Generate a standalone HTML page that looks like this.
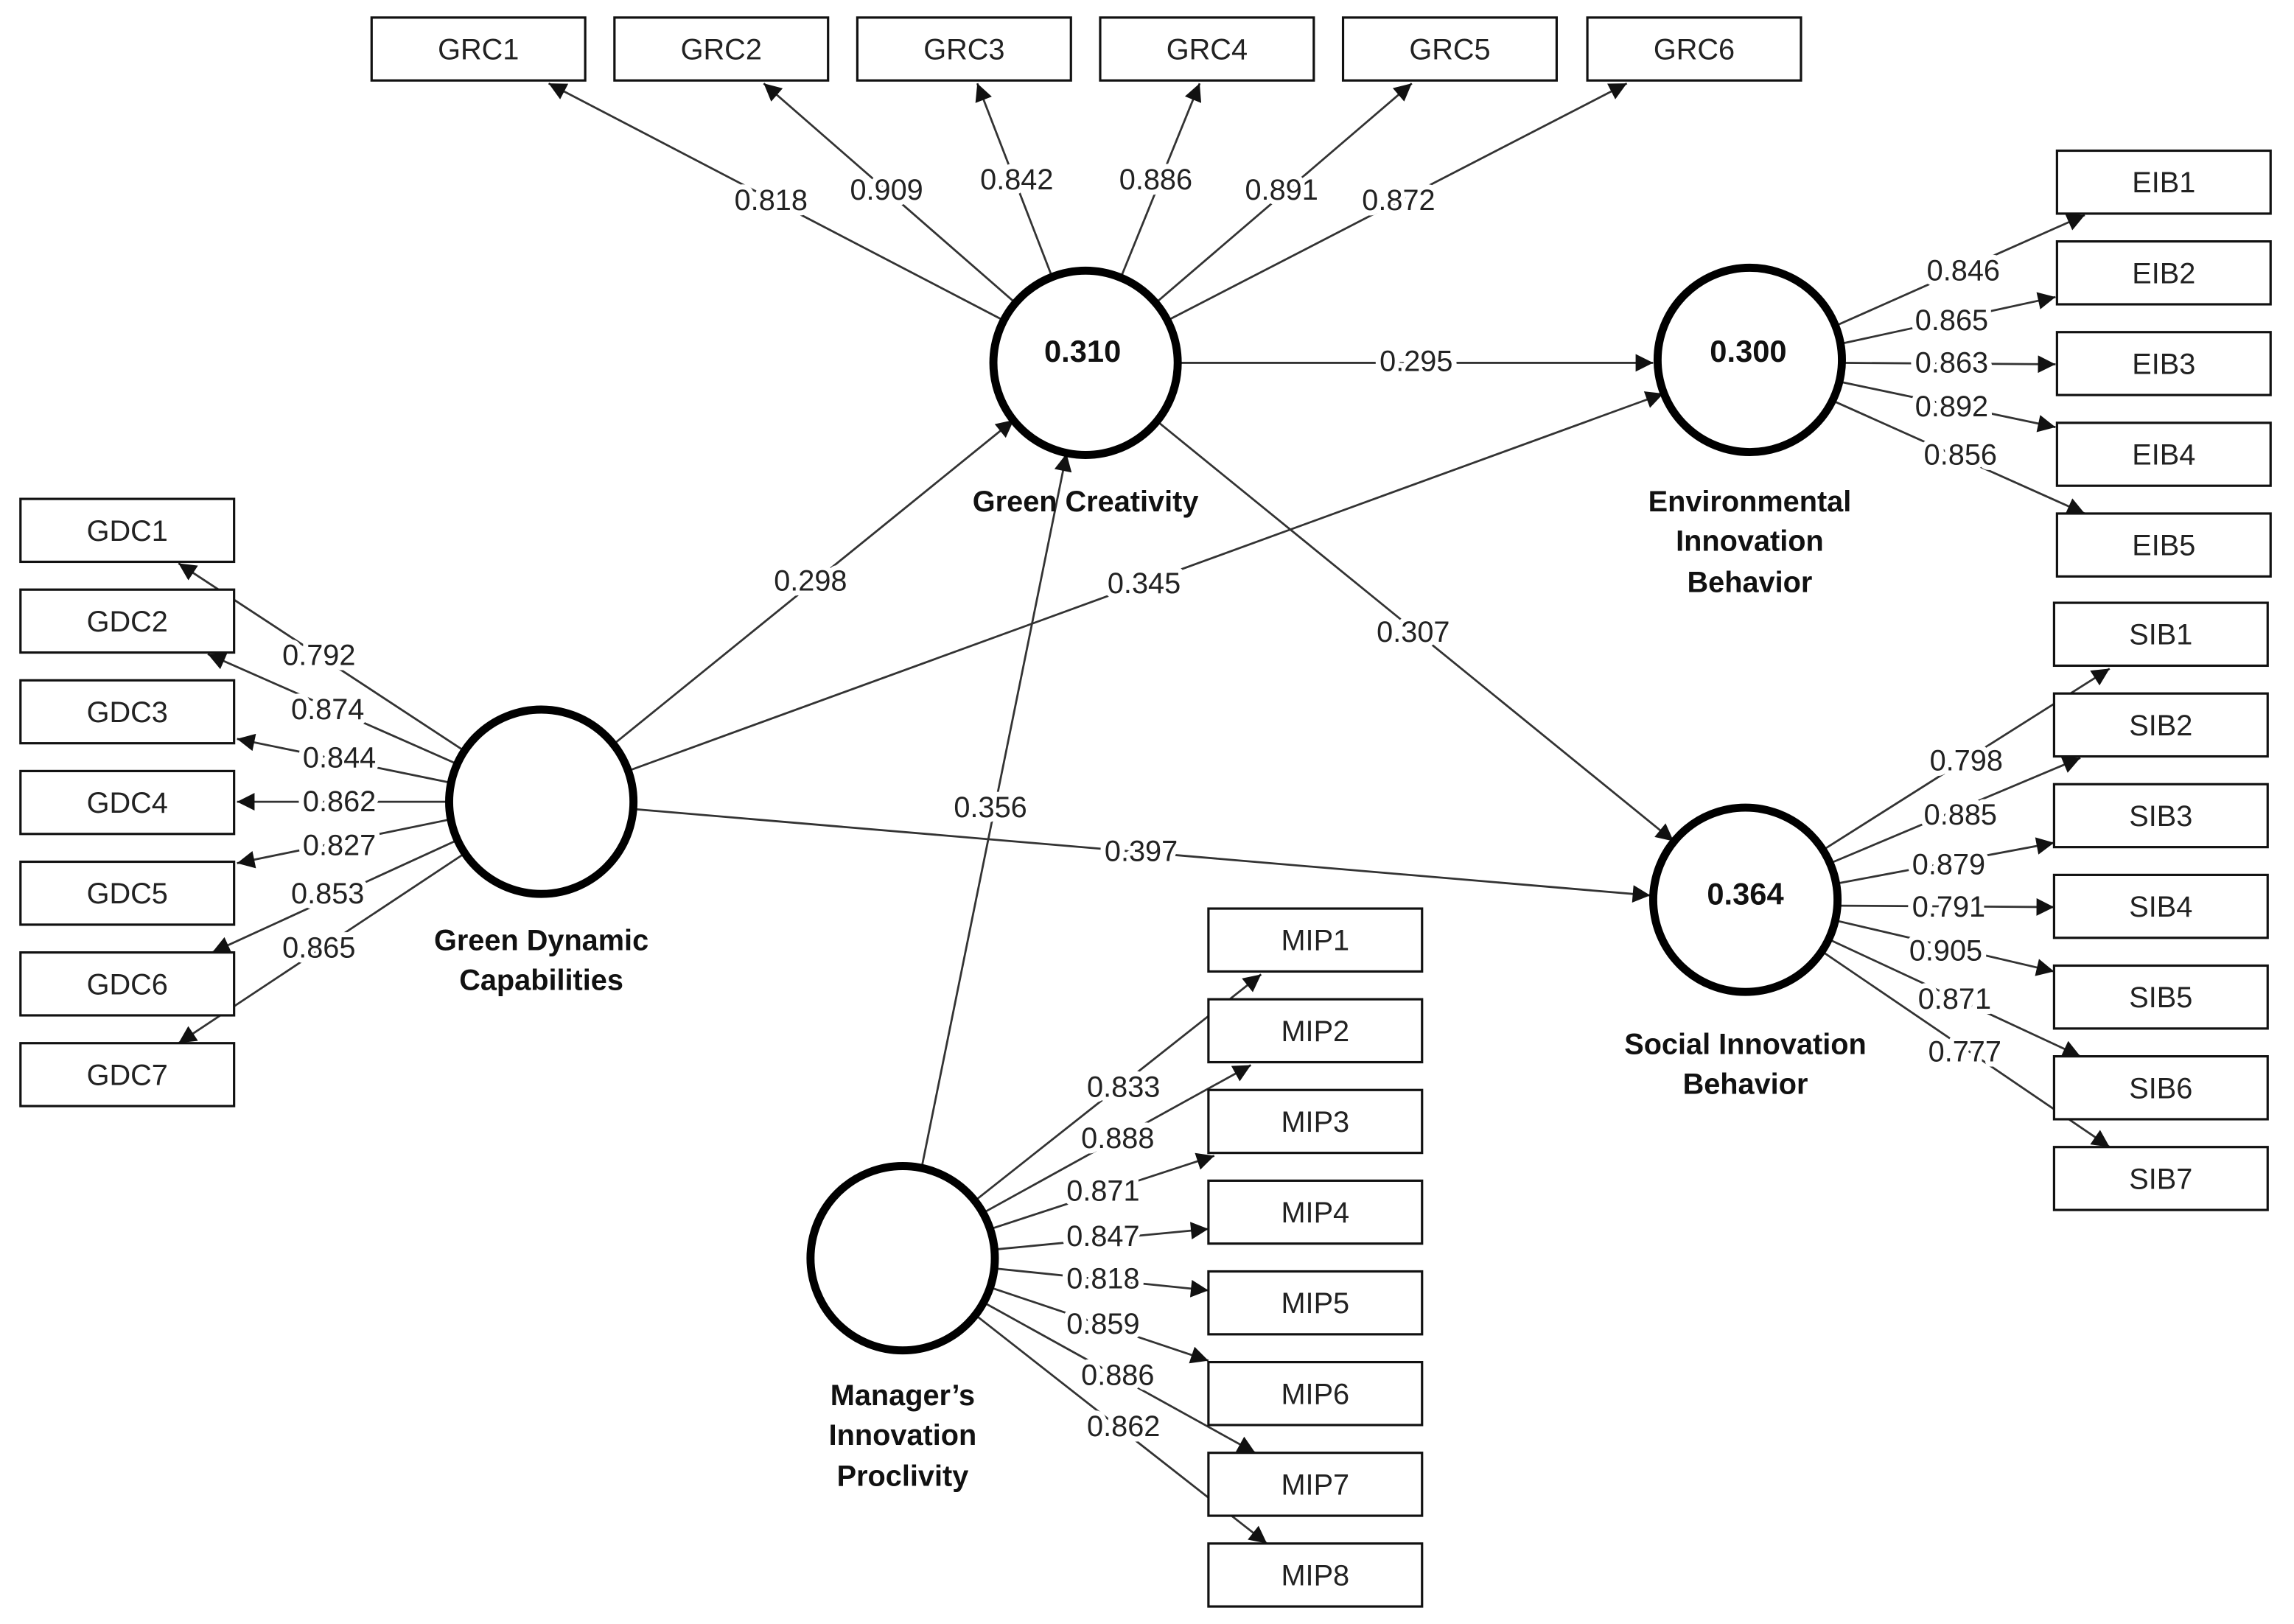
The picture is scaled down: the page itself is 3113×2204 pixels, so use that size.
<!DOCTYPE html>
<html><head><meta charset="utf-8"><style>
html,body{margin:0;padding:0;background:#fff;}
svg{display:block;}
text{font-family:"Liberation Sans",sans-serif;}
.n{font-size:20px;fill:#222;text-anchor:middle;dominant-baseline:central;stroke:#fff;stroke-width:7px;paint-order:stroke;stroke-linejoin:round;}
.b{font-size:20px;fill:#222;text-anchor:middle;dominant-baseline:central;}
.t{font-size:20px;font-weight:bold;fill:#111;text-anchor:middle;dominant-baseline:central;}
.r{font-size:21px;font-weight:bold;fill:#111;text-anchor:middle;dominant-baseline:central;}
rect{fill:#fff;stroke:#111;stroke-width:1.6;}
line{stroke:#333;stroke-width:1.4;marker-end:url(#a);}
circle{fill:#fff;stroke:#000;stroke-width:5.5;}
</style></head><body>
<svg width="3113" height="2204" viewBox="0 0 1568 1110" preserveAspectRatio="none" xmlns="http://www.w3.org/2000/svg">
<defs><marker id="a" viewBox="0 0 10 10" refX="10" refY="5" markerWidth="13" markerHeight="12" markerUnits="userSpaceOnUse" orient="auto"><path d="M0,0 L10,5 L0,10 z" fill="#111"/></marker></defs>

<g>
<line x1="686" y1="219" x2="375" y2="57"/>
<line x1="694" y1="207" x2="522" y2="57"/>
<line x1="719" y1="189" x2="668" y2="57"/>
<line x1="766" y1="190" x2="820" y2="57"/>
<line x1="790" y1="207" x2="965" y2="57"/>
<line x1="798" y1="219" x2="1112" y2="57"/>
<line x1="805" y1="248" x2="1130" y2="248"/>
<line x1="791" y1="288" x2="1144" y2="575"/>
<line x1="419" y1="509" x2="693" y2="287"/>
<line x1="429" y1="527" x2="1137" y2="269"/>
<line x1="433" y1="553" x2="1128" y2="612"/>
<line x1="630" y1="798" x2="729" y2="310"/>

<line x1="317" y1="513" x2="122" y2="385"/>
<line x1="312" y1="522" x2="142" y2="447"/>
<line x1="308" y1="535" x2="162" y2="505"/>
<line x1="307" y1="548" x2="162" y2="548"/>
<line x1="308" y1="560" x2="162" y2="590"/>
<line x1="313" y1="574" x2="145" y2="651"/>
<line x1="318" y1="583" x2="122" y2="713"/>

<line x1="1254" y1="223" x2="1425" y2="147"/>
<line x1="1258" y1="235" x2="1405" y2="203"/>
<line x1="1259" y1="248" x2="1405" y2="249"/>
<line x1="1258" y1="261" x2="1405" y2="292"/>
<line x1="1253" y1="274" x2="1425" y2="351"/>

<line x1="1246" y1="581" x2="1442" y2="457"/>
<line x1="1251" y1="590" x2="1422" y2="518"/>
<line x1="1255" y1="604" x2="1404" y2="576"/>
<line x1="1256" y1="619" x2="1404" y2="620"/>
<line x1="1254" y1="629" x2="1404" y2="664"/>
<line x1="1250" y1="642" x2="1422" y2="722"/>
<line x1="1245" y1="650" x2="1442" y2="784"/>

<line x1="666" y1="821" x2="862" y2="666"/>
<line x1="672" y1="829" x2="855" y2="728"/>
<line x1="677" y1="840" x2="830" y2="790"/>
<line x1="680" y1="854" x2="826" y2="840"/>
<line x1="680" y1="867" x2="826" y2="882"/>
<line x1="677" y1="880" x2="826" y2="930"/>
<line x1="672" y1="890" x2="858" y2="993"/>
<line x1="667" y1="899" x2="866" y2="1055"/>
</g>

<circle cx="742" cy="248" r="63"/>
<circle cx="1196" cy="246" r="63"/>
<circle cx="1193" cy="615" r="63"/>
<circle cx="370" cy="548" r="63"/>
<circle cx="617" cy="860" r="63"/>
<text class="r" x="740" y="240">0.310</text>
<text class="r" x="1195" y="240">0.300</text>
<text class="r" x="1193" y="611">0.364</text>

<g>
<rect x="254" y="12" width="146" height="43"/><text class="b" x="327" y="34">GRC1</text>
<rect x="420" y="12" width="146" height="43"/><text class="b" x="493" y="34">GRC2</text>
<rect x="586" y="12" width="146" height="43"/><text class="b" x="659" y="34">GRC3</text>
<rect x="752" y="12" width="146" height="43"/><text class="b" x="825" y="34">GRC4</text>
<rect x="918" y="12" width="146" height="43"/><text class="b" x="991" y="34">GRC5</text>
<rect x="1085" y="12" width="146" height="43"/><text class="b" x="1158" y="34">GRC6</text>

<rect x="1406" y="103" width="146" height="43"/><text class="b" x="1479" y="125">EIB1</text>
<rect x="1406" y="165" width="146" height="43"/><text class="b" x="1479" y="187">EIB2</text>
<rect x="1406" y="227" width="146" height="43"/><text class="b" x="1479" y="249">EIB3</text>
<rect x="1406" y="289" width="146" height="43"/><text class="b" x="1479" y="311">EIB4</text>
<rect x="1406" y="351" width="146" height="43"/><text class="b" x="1479" y="373">EIB5</text>

<rect x="1404" y="412" width="146" height="43"/><text class="b" x="1477" y="434">SIB1</text>
<rect x="1404" y="474" width="146" height="43"/><text class="b" x="1477" y="496">SIB2</text>
<rect x="1404" y="536" width="146" height="43"/><text class="b" x="1477" y="558">SIB3</text>
<rect x="1404" y="598" width="146" height="43"/><text class="b" x="1477" y="620">SIB4</text>
<rect x="1404" y="660" width="146" height="43"/><text class="b" x="1477" y="682">SIB5</text>
<rect x="1404" y="722" width="146" height="43"/><text class="b" x="1477" y="744">SIB6</text>
<rect x="1404" y="784" width="146" height="43"/><text class="b" x="1477" y="806">SIB7</text>

<rect x="14" y="341" width="146" height="43"/><text class="b" x="87" y="363">GDC1</text>
<rect x="14" y="403" width="146" height="43"/><text class="b" x="87" y="425">GDC2</text>
<rect x="14" y="465" width="146" height="43"/><text class="b" x="87" y="487">GDC3</text>
<rect x="14" y="527" width="146" height="43"/><text class="b" x="87" y="549">GDC4</text>
<rect x="14" y="589" width="146" height="43"/><text class="b" x="87" y="611">GDC5</text>
<rect x="14" y="651" width="146" height="43"/><text class="b" x="87" y="673">GDC6</text>
<rect x="14" y="713" width="146" height="43"/><text class="b" x="87" y="735">GDC7</text>

<rect x="826" y="621" width="146" height="43"/><text class="b" x="899" y="643">MIP1</text>
<rect x="826" y="683" width="146" height="43"/><text class="b" x="899" y="705">MIP2</text>
<rect x="826" y="745" width="146" height="43"/><text class="b" x="899" y="767">MIP3</text>
<rect x="826" y="807" width="146" height="43"/><text class="b" x="899" y="829">MIP4</text>
<rect x="826" y="869" width="146" height="43"/><text class="b" x="899" y="891">MIP5</text>
<rect x="826" y="931" width="146" height="43"/><text class="b" x="899" y="953">MIP6</text>
<rect x="826" y="993" width="146" height="43"/><text class="b" x="899" y="1015">MIP7</text>
<rect x="826" y="1055" width="146" height="43"/><text class="b" x="899" y="1077">MIP8</text>
</g>

<g>
<text class="n" x="527" y="137">0.818</text>
<text class="n" x="606" y="130">0.909</text>
<text class="n" x="695" y="123">0.842</text>
<text class="n" x="790" y="123">0.886</text>
<text class="n" x="876" y="130">0.891</text>
<text class="n" x="956" y="137">0.872</text>
<text class="n" x="968" y="247">0.295</text>
<text class="n" x="966" y="432">0.307</text>
<text class="n" x="554" y="397">0.298</text>
<text class="n" x="782" y="399">0.345</text>
<text class="n" x="780" y="582">0.397</text>
<text class="n" x="677" y="552">0.356</text>

<text class="n" x="218" y="448">0.792</text>
<text class="n" x="224" y="485">0.874</text>
<text class="n" x="232" y="518">0.844</text>
<text class="n" x="232" y="548">0.862</text>
<text class="n" x="232" y="578">0.827</text>
<text class="n" x="224" y="611">0.853</text>
<text class="n" x="218" y="648">0.865</text>

<text class="n" x="1342" y="185">0.846</text>
<text class="n" x="1334" y="219">0.865</text>
<text class="n" x="1334" y="248">0.863</text>
<text class="n" x="1334" y="278">0.892</text>
<text class="n" x="1340" y="311">0.856</text>

<text class="n" x="1344" y="520">0.798</text>
<text class="n" x="1340" y="557">0.885</text>
<text class="n" x="1332" y="591">0.879</text>
<text class="n" x="1332" y="620">0.791</text>
<text class="n" x="1330" y="650">0.905</text>
<text class="n" x="1336" y="683">0.871</text>
<text class="n" x="1343" y="719">0.777</text>

<text class="n" x="768" y="743">0.833</text>
<text class="n" x="764" y="778">0.888</text>
<text class="n" x="754" y="814">0.871</text>
<text class="n" x="754" y="845">0.847</text>
<text class="n" x="754" y="874">0.818</text>
<text class="n" x="754" y="905">0.859</text>
<text class="n" x="764" y="940">0.886</text>
<text class="n" x="768" y="975">0.862</text>
</g>

<text class="t" x="742" y="343">Green Creativity</text>
<text class="t" x="1196" y="343">Environmental</text>
<text class="t" x="1196" y="370">Innovation</text>
<text class="t" x="1196" y="398">Behavior</text>
<text class="t" x="370" y="643">Green Dynamic</text>
<text class="t" x="370" y="670">Capabilities</text>
<text class="t" x="1193" y="714">Social Innovation</text>
<text class="t" x="1193" y="741">Behavior</text>
<text class="t" x="617" y="954">Manager’s</text>
<text class="t" x="617" y="981">Innovation</text>
<text class="t" x="617" y="1009">Proclivity</text>
</svg>
</body></html>
